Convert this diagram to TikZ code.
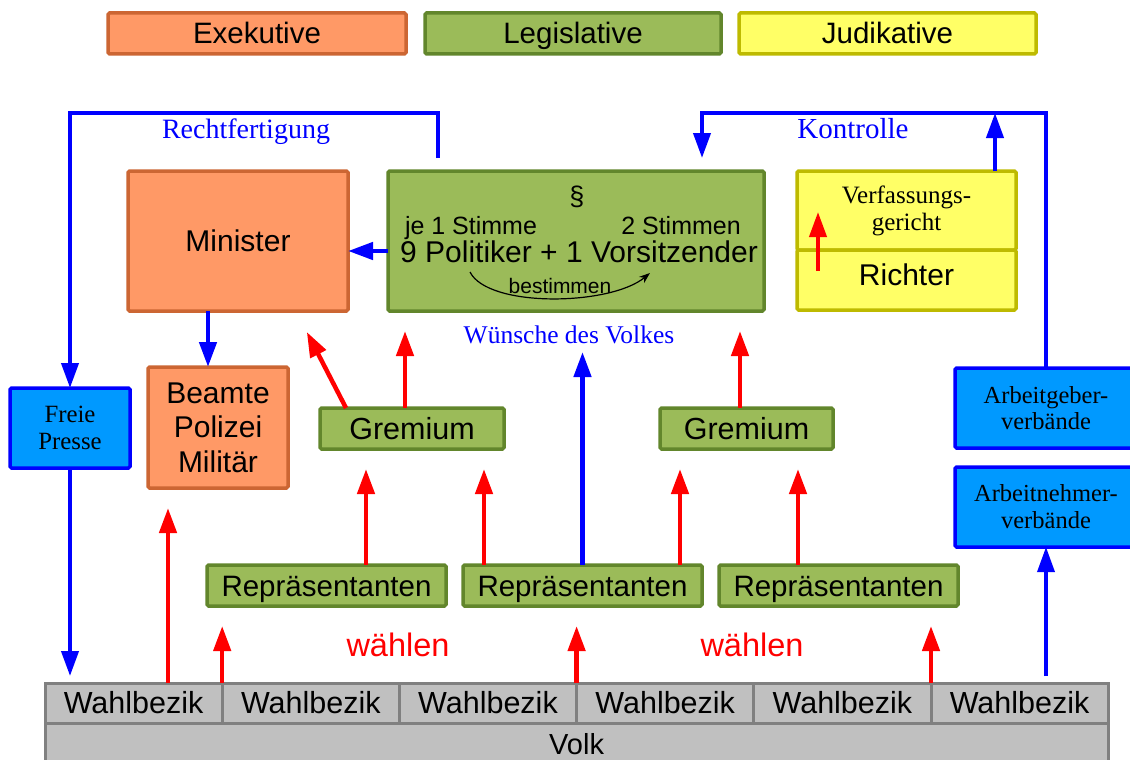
\documentclass[tikz,border=0pt]{standalone}
\usepackage{fontspec}
\setmainfont{Liberation Sans}
\newfontfamily\serifl{Liberation Serif}
\usetikzlibrary{arrows.meta}
\newcommand\fsz[2]{\fontsize{#1pt}{#2pt}\selectfont}

\definecolor{exeF}{RGB}{255,153,102}
\definecolor{exeB}{RGB}{204,102,51}
\definecolor{legF}{RGB}{155,187,89}
\definecolor{legB}{RGB}{98,134,44}
\definecolor{judF}{RGB}{255,255,102}
\definecolor{judB}{RGB}{190,186,0}
\definecolor{verbF}{RGB}{0,153,255}
\definecolor{verbB}{RGB}{0,0,255}
\definecolor{grauF}{RGB}{192,192,192}
\definecolor{grauB}{RGB}{128,128,128}
\definecolor{pfblau}{RGB}{0,0,255}
\definecolor{pfrot}{RGB}{255,0,0}

\begin{document}
\begin{tikzpicture}[x=1pt,y=-1pt,
  box/.style={rectangle, line width=3.5pt, rounded corners=1.5pt, inner sep=0pt, outer sep=0pt},
  exe/.style={box, draw=exeB, fill=exeF},
  leg/.style={box, draw=legB, fill=legF},
  jud/.style={box, draw=judB, fill=judF},
  verb/.style={box, draw=verbB, fill=verbF},
  grau/.style={box, line width=3pt, draw=grauB, fill=grauF, rounded corners=0pt},
  capmid/.style={text height=#1, text depth=0pt},
  txt/.style={inner sep=0pt},
  bline/.style={draw=pfblau, line width=4pt},
  tipp/.style={-{Triangle[length=25pt,width=17pt]}},
  barrow/.style={bline, tipp},
  rarrow/.style={draw=pfrot, line width=4.5pt, tipp},
  bogen/.style={draw=black, line width=1.2pt, -{Stealth[length=11pt,width=8pt]}},
  lab/.style={txt, text=pfblau, font=\serifl\fsz{28}{31}, capmid=18.5pt},
  wahl/.style={txt, text=pfrot, font=\fsz{32.5}{38}, capmid=23.3pt},
  legende/.style={capmid=21pt, minimum height=41pt, font=\fsz{29.5}{34}}
]
\useasboundingbox (0,0) rectangle (1130,760);
\fill[white] (0,0) rectangle (1130,760);
\clip (0,0) rectangle (1130,760);

% legend
\node[exe, legende, minimum width=298pt] (lexe) at (257,33.5) {Exekutive};
\node[leg, legende, minimum width=296pt] (lleg) at (573,33.5) {Legislative};
\node[jud, legende, minimum width=297pt] (ljud) at (887.5,33.5) {Judikative};

% government and parliament
\node[exe, capmid=21.5pt, minimum width=220pt, minimum height=140pt, font=\fsz{30}{36}] (min) at (238,241) {Minister};
\node[leg, minimum width=376pt, minimum height=140pt] (par) at (576,241) {};
\node[txt, font=\fsz{27}{30}] (para) at (577,196.5) {§};
\node[txt, capmid=18pt, font=\fsz{25}{30}] (je) at (471,225) {je 1 Stimme};
\node[txt, capmid=18pt, font=\fsz{25}{30}] (zwei) at (681,225) {2 Stimmen};
\node[txt, capmid=21.5pt, font=\fsz{30}{36}] (pol) at (579,252) {9 Politiker + 1 Vorsitzender};
\node[txt, capmid=15pt, font=\fsz{21}{25}] (best) at (560,286) {bestimmen};
\coordinate (bs) at (470,272);
\coordinate (be) at (650,273);
\draw[bogen] (bs) .. controls (488,308) and (610,306) .. (be);

% constitutional court
\node[jud, minimum width=219pt, minimum height=79pt, align=center, font=\serifl\fsz{25}{27}] (vg) at (906.5,210.5) {Verfassungs-\\gericht};
\node[jud, minimum width=219pt, minimum height=60pt, font=\fsz{30}{36}, text height=21.5pt, text depth=10pt] (ri) at (906.5,280) {Richter};
\coordinate (rs) at (818,271);
\coordinate (re) at (818,212);
\draw[rarrow, line width=4pt] (rs) -- (re);

% middle row
\node[verb, minimum width=120pt, minimum height=80pt, align=center, font=\serifl\fsz{24.8}{27}] (presse) at (70,428) {Freie\\Presse};
\node[exe, minimum width=140pt, minimum height=121pt, align=center, font=\fsz{30}{34.5}] (beam) at (218,427.5) {Beamte\\Polizei\\Militär};
\node[leg, capmid=22pt, minimum width=184pt, minimum height=41pt, font=\fsz{30.5}{36}] (g1) at (412,428.5) {Gremium};
\node[leg, capmid=22pt, minimum width=173pt, minimum height=41pt, font=\fsz{30.5}{36}] (g2) at (746.5,428.5) {Gremium};
\node[verb, minimum width=182pt, minimum height=80pt, align=center, font=\serifl\fsz{24.5}{26}] (arbg) at (1046,408) {Arbeitgeber-\\verbände};
\node[verb, minimum width=182pt, minimum height=80pt, align=center, font=\serifl\fsz{24.5}{27}] (arbn) at (1046,507) {Arbeitnehmer-\\verbände};

% representatives
\node[leg, capmid=21.2pt, minimum width=239pt, minimum height=41pt, font=\fsz{29.5}{35}] (rep1) at (326.5,585.5) {Repräsentanten};
\node[leg, capmid=21.2pt, minimum width=239pt, minimum height=41pt, font=\fsz{29.5}{35}] (rep2) at (582.5,585.5) {Repräsentanten};
\node[leg, capmid=21.2pt, minimum width=239pt, minimum height=41pt, font=\fsz{29.5}{35}] (rep3) at (838.5,585.5) {Repräsentanten};

% people and constituencies
\node[grau, minimum width=1063.2pt, minimum height=80pt, anchor=north] (volk) at (576.6,723) {};
\node[txt, capmid=21pt, font=\fsz{29}{34}] (volktxt) at (576.6,744) {Volk};
\foreach \i in {1,...,6}
  \node[grau, capmid=21.5pt, minimum width=177.2pt, minimum height=40pt, font=\fsz{30.5}{35}] (w\i) at ({133.6+(\i-1)*177.2},703) {Wahlbezik};

% labels
\node[lab] (lrecht) at (246,129) {Rechtfertigung};
\node[lab, font=\serifl\fsz{29}{32}] (lkontr) at (853,129.5) {Kontrolle};
\node[lab, font=\serifl\fsz{25.5}{28}, capmid=16.9pt] (lwv) at (569,335) {Wünsche des Volkes};
\node[wahl] (wl1) at (398,645) {wählen};
\node[wahl] (wl2) at (752,645) {wählen};

% helper columns and rows
\coordinate (ytop) at (0,113);
\coordinate (xa) at (168,0);
\coordinate (x366) at (366,0);
\coordinate (x484) at (484,0);
\coordinate (x680) at (680,0);
\coordinate (x798) at (798,0);
\coordinate (x405) at (405,0);
\coordinate (x740) at (740,0);
\coordinate (x346) at (346,0);
\coordinate (x296) at (296,0);

% feedback loops
\draw[barrow] ([xshift=-138pt,yshift=13pt]par.north) |- (presse.north |- ytop) -- (presse.north);
\draw[barrow] (arbg.north) -- (arbg.north |- ytop) -| ([xshift=126pt,yshift=13pt]par.north);
\draw[barrow] ([xshift=88.5pt]vg.north) -- ([xshift=88.5pt]vg.north |- ytop);

% executive chain
\draw[barrow, line width=4.5pt] ([yshift=-10pt]par.west) -- ([yshift=-10pt]min.east);
\draw[barrow, line width=4.5pt] ([xshift=-30pt]min.south) -- ([xshift=-10pt]beam.north);

% press and unions
\draw[barrow] (presse.south) -- ([yshift=7pt]presse.south |- w1.north);
\draw[barrow, line width=3.5pt] ([yshift=7pt]w6.north -| arbn.south) -- (arbn.south);

% elections
\draw[rarrow, shorten >=20pt] (w1.north -| xa) -- (beam.south -| xa);
\draw[rarrow, shorten >=20pt] (w1.north east) -- (w1.north east |- rep1.south);
\draw[rarrow, shorten >=20pt] (w3.north east) -- (w3.north east |- rep2.south);
\draw[rarrow, shorten >=20pt] (w5.north east) -- (w5.north east |- rep3.south);

\draw[rarrow, shorten >=20pt] (rep1.north -| x366) -- (g1.south -| x366);
\draw[rarrow, shorten >=20pt] (rep2.north -| x484) -- (g1.south -| x484);
\draw[rarrow, shorten >=20pt] (rep2.north -| x680) -- (g2.south -| x680);
\draw[rarrow, shorten >=20pt] (rep3.north -| x798) -- (g2.south -| x798);

\draw[rarrow, shorten >=20pt] (g1.north -| x405) -- (par.south -| x405);
\draw[rarrow, shorten >=23.6pt] (g1.north -| x346) -- (min.south -| x296);
\draw[rarrow, shorten >=20pt] (g2.north -| x740) -- (par.south -| x740);

\draw[barrow, line width=4.5pt, shorten >=41pt] (rep2.north) -- (rep2.north |- par.south);
\end{tikzpicture}
\end{document}
